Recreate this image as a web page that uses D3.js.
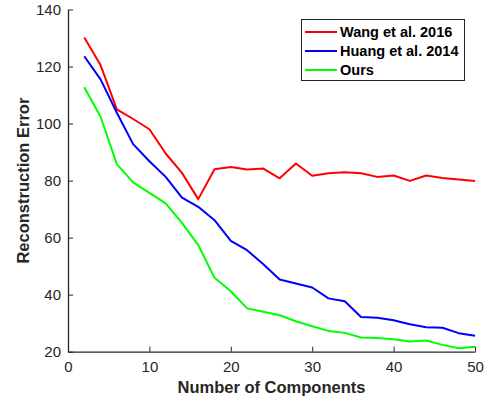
<!DOCTYPE html>
<html><head><meta charset="utf-8">
<script src="https://cdn.jsdelivr.net/npm/d3@7"></script>
<style>
html,body{margin:0;padding:0;background:#fff;}
svg{display:block;font-family:"Liberation Sans",Arial,Helvetica,sans-serif;}
</style></head>
<body><svg id="c" width="490" height="404"></svg>
<script>
const components = [2,4,6,8,10,12,14,16,18,20,22,24,26,28,30,32,34,36,38,40,42,44,46,48,50];
const wang = [130.2,120.5,105,101.6,98,89.5,82.7,73.5,84,84.8,83.9,84.2,80.8,86,81.7,82.6,82.9,82.6,81.3,81.8,79.9,81.8,80.9,80.4,79.9];
const huang = [123.6,115.5,103.8,92.8,86.8,81.3,74,70.8,66.1,58.9,55.6,50.7,45.3,43.9,42.5,38.7,37.7,32.2,31.9,31.0,29.6,28.6,28.4,26.5,25.6];
const ours = [112.7,102.4,85.8,79.4,75.7,72,65.2,57.4,45.9,41.2,35.2,34,32.8,30.7,28.9,27.3,26.6,25.0,24.8,24.4,23.6,23.9,22.4,21.2,21.7];
const seriesNames = ["Wang et al. 2016","Huang et al. 2014","Ours"];
const seriesColors = ["#ff0000","#0000ff","#00ff00"];
const xTicks = [0,10,20,30,40,50];
const yTicks = [20,40,60,80,100,120,140];

const svg = d3.select("#c");
const L=68, R=475, T=9.5, B=351.7;
const x = d3.scaleLinear().domain([0,50]).range([L,R]);
const y = d3.scaleLinear().domain([20,140]).range([B,T]);
const axisColor="#262626";

// x axis
const xa = svg.append("g").attr("transform",`translate(0,${B})`)
  .call(d3.axisBottom(x).tickValues(xTicks).tickSizeInner(-5).tickSizeOuter(0).tickPadding(10));
// y axis
const ya = svg.append("g").attr("transform",`translate(${L},0)`)
  .call(d3.axisLeft(y).tickValues(yTicks).tickSizeInner(-5).tickSizeOuter(0).tickPadding(7));
[xa,ya].forEach(a=>{
  a.select(".domain").attr("stroke",axisColor).attr("stroke-width",1.3);
  a.selectAll(".tick line").attr("stroke",axisColor).attr("stroke-width",1);
  a.selectAll(".tick text").attr("fill",axisColor).style("font-size","15px").style("font-family","'Liberation Sans',Arial,sans-serif");
});
xa.selectAll(".tick text").attr("dy","0.71em");

const data=[wang,huang,ours];
const line = d3.line().x((d,i)=>x(components[i])).y(d=>y(d));
data.forEach((s,k)=>{
  svg.append("path").datum(s).attr("d",line).attr("fill","none")
    .attr("stroke",seriesColors[k]).attr("stroke-width",2).attr("stroke-linejoin","round");
});

// labels
svg.append("text").attr("x",(L+R)/2).attr("y",393).attr("text-anchor","middle")
  .style("font-size","16.5px").style("font-weight","bold").attr("fill",axisColor).text("Number of Components");
svg.append("text").attr("transform",`translate(29,${(T+B)/2}) rotate(-90)`).attr("text-anchor","middle")
  .style("font-size","16.5px").style("font-weight","bold").attr("fill",axisColor).text("Reconstruction Error");

// legend
const lg = svg.append("g");
lg.append("rect").attr("x",301.5).attr("y",19.5).attr("width",163).attr("height",61)
  .attr("fill","#fff").attr("stroke",axisColor).attr("stroke-width",1);
const rowsY=[32,51,70];
seriesNames.forEach((n,k)=>{
  lg.append("line").attr("x1",305).attr("x2",337).attr("y1",rowsY[k]).attr("y2",rowsY[k])
    .attr("stroke",seriesColors[k]).attr("stroke-width",2);
  lg.append("text").attr("x",340).attr("y",rowsY[k]).attr("dy","0.36em")
    .style("font-size","14.5px").style("font-weight","bold").attr("fill","#000").text(n);
});
</script></body></html>
